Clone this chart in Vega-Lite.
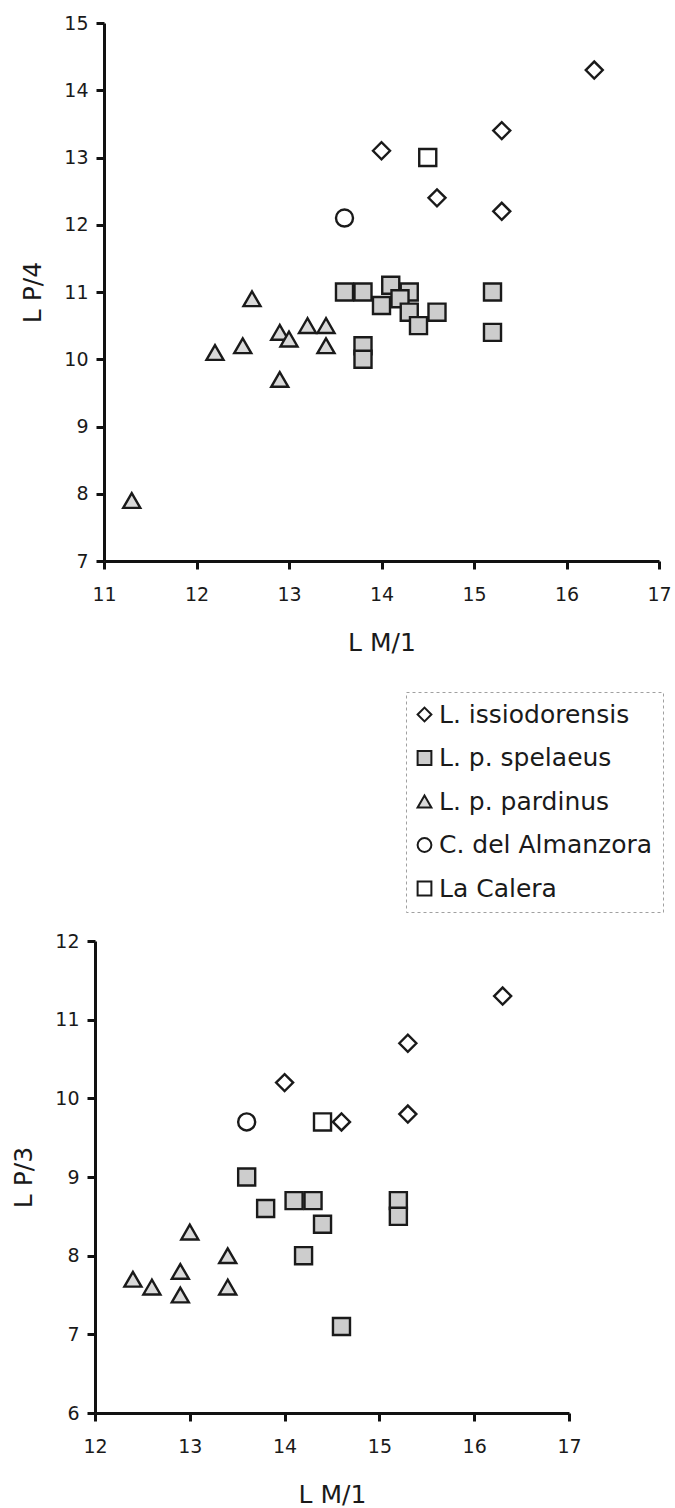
{
  "$schema": "https://vega.github.io/schema/vega-lite/v6.json",
  "background": "white",
  "padding": {"left": 11, "top": 14, "right": 0, "bottom": 0},
  "datasets": {
    "top": [
      {"species": "L. issiodorensis", "LM1": 16.3, "LP": 14.3},
      {"species": "L. issiodorensis", "LM1": 15.3, "LP": 13.4},
      {"species": "L. issiodorensis", "LM1": 14.0, "LP": 13.1},
      {"species": "L. issiodorensis", "LM1": 14.6, "LP": 12.4},
      {"species": "L. issiodorensis", "LM1": 15.3, "LP": 12.2},
      {"species": "C. del Almanzora", "LM1": 13.6, "LP": 12.1},
      {"species": "La Calera", "LM1": 14.5, "LP": 13.0},
      {"species": "L. p. spelaeus", "LM1": 13.6, "LP": 11.0},
      {"species": "L. p. spelaeus", "LM1": 13.8, "LP": 11.0},
      {"species": "L. p. spelaeus", "LM1": 14.1, "LP": 11.1},
      {"species": "L. p. spelaeus", "LM1": 14.3, "LP": 11.0},
      {"species": "L. p. spelaeus", "LM1": 14.0, "LP": 10.8},
      {"species": "L. p. spelaeus", "LM1": 14.2, "LP": 10.9},
      {"species": "L. p. spelaeus", "LM1": 14.3, "LP": 10.7},
      {"species": "L. p. spelaeus", "LM1": 14.4, "LP": 10.5},
      {"species": "L. p. spelaeus", "LM1": 14.6, "LP": 10.7},
      {"species": "L. p. spelaeus", "LM1": 15.2, "LP": 11.0},
      {"species": "L. p. spelaeus", "LM1": 15.2, "LP": 10.4},
      {"species": "L. p. spelaeus", "LM1": 13.8, "LP": 10.2},
      {"species": "L. p. spelaeus", "LM1": 13.8, "LP": 10.0},
      {"species": "L. p. pardinus", "LM1": 11.3, "LP": 7.9},
      {"species": "L. p. pardinus", "LM1": 12.2, "LP": 10.1},
      {"species": "L. p. pardinus", "LM1": 12.5, "LP": 10.2},
      {"species": "L. p. pardinus", "LM1": 12.6, "LP": 10.9},
      {"species": "L. p. pardinus", "LM1": 12.9, "LP": 10.4},
      {"species": "L. p. pardinus", "LM1": 12.9, "LP": 9.7},
      {"species": "L. p. pardinus", "LM1": 13.0, "LP": 10.3},
      {"species": "L. p. pardinus", "LM1": 13.2, "LP": 10.5},
      {"species": "L. p. pardinus", "LM1": 13.4, "LP": 10.5},
      {"species": "L. p. pardinus", "LM1": 13.4, "LP": 10.2}
    ],
    "bottom": [
      {"species": "L. issiodorensis", "LM1": 14.0, "LP": 10.2},
      {"species": "L. issiodorensis", "LM1": 14.6, "LP": 9.7},
      {"species": "L. issiodorensis", "LM1": 15.3, "LP": 10.7},
      {"species": "L. issiodorensis", "LM1": 15.3, "LP": 9.8},
      {"species": "L. issiodorensis", "LM1": 16.3, "LP": 11.3},
      {"species": "C. del Almanzora", "LM1": 13.6, "LP": 9.7},
      {"species": "La Calera", "LM1": 14.4, "LP": 9.7},
      {"species": "L. p. spelaeus", "LM1": 13.6, "LP": 9.0},
      {"species": "L. p. spelaeus", "LM1": 13.8, "LP": 8.6},
      {"species": "L. p. spelaeus", "LM1": 14.1, "LP": 8.7},
      {"species": "L. p. spelaeus", "LM1": 14.3, "LP": 8.7},
      {"species": "L. p. spelaeus", "LM1": 14.4, "LP": 8.4},
      {"species": "L. p. spelaeus", "LM1": 14.2, "LP": 8.0},
      {"species": "L. p. spelaeus", "LM1": 14.6, "LP": 7.1},
      {"species": "L. p. spelaeus", "LM1": 15.2, "LP": 8.7},
      {"species": "L. p. spelaeus", "LM1": 15.2, "LP": 8.5},
      {"species": "L. p. pardinus", "LM1": 12.4, "LP": 7.7},
      {"species": "L. p. pardinus", "LM1": 12.6, "LP": 7.6},
      {"species": "L. p. pardinus", "LM1": 12.9, "LP": 7.8},
      {"species": "L. p. pardinus", "LM1": 12.9, "LP": 7.5},
      {"species": "L. p. pardinus", "LM1": 13.0, "LP": 8.3},
      {"species": "L. p. pardinus", "LM1": 13.4, "LP": 8.0},
      {"species": "L. p. pardinus", "LM1": 13.4, "LP": 7.6}
    ]
  },
  "bounds": "flush",
  "spacing": 918,
  "resolve": {"legend": {"shape": "independent", "fill": "independent", "stroke": "independent"}},
  "vconcat": [
    {
      "bounds": "flush",
      "spacing": 0,
      "hconcat": [
        {"data": {"values": []}, "mark": "point", "width": 9, "height": 10},
        {
          "data": {"name": "top"},
          "width": 555,
          "height": 538,
          "mark": {"type": "point", "filled": true, "strokeWidth": 2.4, "opacity": 1, "size": 290},
          "encoding": {
            "x": {"field": "LM1", "type": "quantitative", "title": "L M/1",
                  "scale": {"domain": [11, 17], "nice": false, "zero": false},
                  "axis": {"values": [11, 12, 13, 14, 15, 16, 17]}},
            "y": {"field": "LP", "type": "quantitative", "title": "L P/4",
                  "scale": {"domain": [7, 15], "nice": false, "zero": false},
                  "axis": {"values": [7, 8, 9, 10, 11, 12, 13, 14, 15]}},
            "shape": {"field": "species", "type": "nominal",
                      "scale": {"domain": ["L. issiodorensis", "L. p. spelaeus", "L. p. pardinus", "C. del Almanzora", "La Calera"],
                                "range": ["diamond", "square", "triangle-up", "circle", "square"]},
                      "legend": null},
            "fill": {"field": "species", "type": "nominal",
                     "scale": {"domain": ["L. issiodorensis", "L. p. spelaeus", "L. p. pardinus", "C. del Almanzora", "La Calera"],
                               "range": ["#ffffff", "#cdcdcd", "#dadada", "#ffffff", "#ffffff"]},
                     "legend": null},
            "stroke": {"field": "species", "type": "nominal",
                       "scale": {"domain": ["L. issiodorensis", "L. p. spelaeus", "L. p. pardinus", "C. del Almanzora", "La Calera"],
                                 "range": ["#1a1a1a", "#1a1a1a", "#1a1a1a", "#1a1a1a", "#1a1a1a"]},
                       "legend": null}
          }
        }
      ]
    },
    {
      "data": {"name": "bottom"},
      "width": 474,
      "height": 472,
      "mark": {"type": "point", "filled": true, "strokeWidth": 2.4, "opacity": 1, "size": 290},
      "encoding": {
        "x": {"field": "LM1", "type": "quantitative", "title": "L M/1",
              "scale": {"domain": [12, 17], "nice": false, "zero": false},
              "axis": {"values": [12, 13, 14, 15, 16, 17]}},
        "y": {"field": "LP", "type": "quantitative", "title": "L P/3",
              "scale": {"domain": [6, 12], "nice": false, "zero": false},
              "axis": {"values": [6, 7, 8, 9, 10, 11, 12]}},
        "shape": {"field": "species", "type": "nominal",
                  "scale": {"domain": ["L. issiodorensis", "L. p. spelaeus", "L. p. pardinus", "C. del Almanzora", "La Calera"],
                            "range": ["diamond", "square", "triangle-up", "circle", "square"]},
                  "legend": {"orient": "none", "legendX": 311, "legendY": -249, "title": null}},
        "fill": {"field": "species", "type": "nominal",
                 "scale": {"domain": ["L. issiodorensis", "L. p. spelaeus", "L. p. pardinus", "C. del Almanzora", "La Calera"],
                           "range": ["#ffffff", "#cdcdcd", "#dadada", "#ffffff", "#ffffff"]},
                 "legend": {"orient": "none", "legendX": 311, "legendY": -249, "title": null}},
        "stroke": {"field": "species", "type": "nominal",
                   "scale": {"domain": ["L. issiodorensis", "L. p. spelaeus", "L. p. pardinus", "C. del Almanzora", "La Calera"],
                             "range": ["#1a1a1a", "#1a1a1a", "#1a1a1a", "#1a1a1a", "#1a1a1a"]},
                   "legend": {"orient": "none", "legendX": 311, "legendY": -249, "title": null}}
      }
    }
  ],
  "config": {
    "font": "DejaVu Sans",
    "view": {"stroke": null},
    "axis": {
      "grid": false,
      "domainColor": "#111111",
      "domainWidth": 3,
      "tickColor": "#111111",
      "tickWidth": 3,
      "tickSize": 8,
      "labelFont": "DejaVu Sans",
      "labelFontSize": 19,
      "labelColor": "#1a1a1a",
      "labelFlush": false,
      "labelOverlap": false,
      "titleFont": "DejaVu Sans",
      "titleFontSize": 25,
      "titleFontWeight": "normal",
      "titleColor": "#1a1a1a"
    },
    "axisX": {"labelPadding": 16, "titlePadding": 26},
    "axisY": {"labelPadding": 8, "titlePadding": 18},
    "legend": {
      "labelFont": "DejaVu Sans",
      "labelFontSize": 25,
      "labelColor": "#1a1a1a",
      "labelLimit": 400,
      "symbolSize": 190,
      "symbolStrokeWidth": 2,
      "rowPadding": 17.5,
      "padding": 10,
      "labelOffset": 2,
      "symbolOffset": -4,
      "strokeColor": "#a0a0a0",
      "strokeDash": [3, 3]
    }
  }
}
